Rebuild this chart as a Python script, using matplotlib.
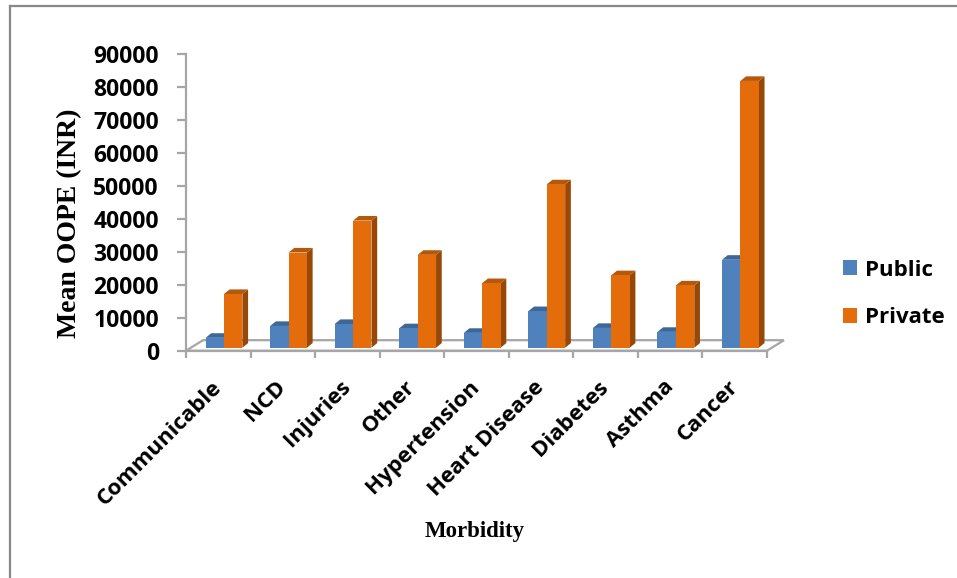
import matplotlib
matplotlib.use("Agg")
import matplotlib.pyplot as plt
from matplotlib.patches import Polygon, Rectangle
from matplotlib.lines import Line2D

# Data
categories = ["Communicable", "NCD", "Injuries", "Other", "Hypertension",
              "Heart Disease", "Diabetes", "Asthma", "Cancer"]
public = [3000, 6600, 7200, 5900, 4500, 11100, 6000, 4800, 26700]
private = [16300, 28900, 38600, 28200, 19600, 49600, 22000, 18900, 81000]

pub_front, pub_top = "#4F81BD", "#3D6798"
pri_front, pri_top, pri_side = "#E46C0A", "#B4580C", "#974806"
axis_grey = "#A6A6A6"

W, H, DPI = 957, 578, 100
fig = plt.figure(figsize=(W / DPI, H / DPI), dpi=DPI)

# axes placed in pixel terms of the reference
left_px, right_px, zero_px, top_px = 186, 767, 350.7, 54.3
ax = fig.add_axes([left_px / W, 1 - zero_px / H,
                   (right_px - left_px) / W, (zero_px - top_px) / H])
n = len(categories)
ax.set_xlim(0, n)
ax.set_ylim(0, 90000)

# pixel -> data conversions for the fake 3D depth
px_x = n / (right_px - left_px)
px_y = 90000 / (zero_px - top_px)
bar_w = 18.4 * px_x
depth_dx, depth_dy = 5.7 * px_x, 4.6 * px_y      # bar depth
floor_dx, floor_dy = 17 * px_x, 10.5 * px_y      # floor depth
base = 3 * px_y                                  # bars sit inside the floor

# floor
floor = Polygon([(0, 0), (n, 0), (n + floor_dx, floor_dy), (floor_dx, floor_dy)],
                closed=True, facecolor="white", edgecolor=axis_grey,
                linewidth=1.6, clip_on=False, zorder=1)
ax.add_patch(floor)


def draw_bar(x0, h, front, top, side):
    y1 = base + h
    ax.add_patch(Polygon([(x0 + bar_w, base), (x0 + bar_w + depth_dx, base + depth_dy),
                          (x0 + bar_w + depth_dx, y1 + depth_dy), (x0 + bar_w, y1)],
                         closed=True, facecolor=side, linewidth=0, clip_on=False, zorder=3))
    ax.add_patch(Polygon([(x0, y1), (x0 + bar_w, y1), (x0 + bar_w + depth_dx, y1 + depth_dy),
                          (x0 + depth_dx, y1 + depth_dy)],
                         closed=True, facecolor=top, linewidth=0, clip_on=False, zorder=3))
    ax.add_patch(Rectangle((x0, base), bar_w, h, facecolor=front, linewidth=0,
                           clip_on=False, zorder=3))


for i in range(n):
    x_pub = i + 0.5 - bar_w + depth_dx
    draw_bar(x_pub, public[i], pub_front, pub_top, pub_front)
    draw_bar(x_pub + bar_w, private[i], pri_front, pri_top, pri_side)

# spines / ticks
for s in ["top", "right"]:
    ax.spines[s].set_visible(False)
for s in ["left", "bottom"]:
    ax.spines[s].set_color(axis_grey)
    ax.spines[s].set_linewidth(1.6)
    ax.spines[s].set_zorder(2)

tick_font = dict(family="Open Sans", weight="bold", size=16.5)
ax.set_yticks(range(0, 90001, 10000))
ax.set_yticklabels([str(v) for v in range(0, 90001, 10000)], **tick_font)
ax.tick_params(axis="y", length=6.5, width=1.6, color=axis_grey, pad=13)

ax.set_xticks([i + 0.5 for i in range(n)])
ax.set_xticklabels(categories, family="Open Sans", weight="bold", size=16)
ax.set_xticks(range(n + 1), minor=True)
ax.tick_params(axis="x", which="major", length=0, pad=24)
ax.tick_params(axis="x", which="minor", length=5, width=1.6, color=axis_grey)
plt.setp(ax.get_xticklabels(), rotation=45, ha="right", va="center",
         rotation_mode="anchor")

# axis titles
fig.text(475 / W, 1 - 532 / H, "Morbidity", family="Liberation Serif",
         weight="bold", size=16.5, ha="center", va="center")
fig.text(70 / W, 1 - 223 / H, "Mean OOPE (INR)", family="Liberation Serif",
         weight="bold", size=20, rotation=90, ha="center", va="center")

# legend
handles = [Rectangle((0, 0), 1, 1, facecolor=pub_front),
           Rectangle((0, 0), 1, 1, facecolor=pri_front)]
fig.legend(handles, ["Public", "Private"], loc="center left",
           bbox_to_anchor=(843 / W, 1 - 294 / H), frameon=False,
           prop=dict(family="Open Sans", weight="bold", size=16),
           handlelength=0.65, handleheight=0.65, handletextpad=0.35,
           labelspacing=1.2, borderpad=0, borderaxespad=0)

# outer chart border (left and top only show in the crop)
fig.add_artist(Line2D([10 / W, 10 / W], [0, 1 - 6 / H], color="#888888",
                      linewidth=1.6, transform=fig.transFigure))
fig.add_artist(Line2D([10 / W, 1], [1 - 6 / H, 1 - 6 / H], color="#888888",
                      linewidth=1.6, transform=fig.transFigure))

fig.savefig("out.png", dpi=DPI)
